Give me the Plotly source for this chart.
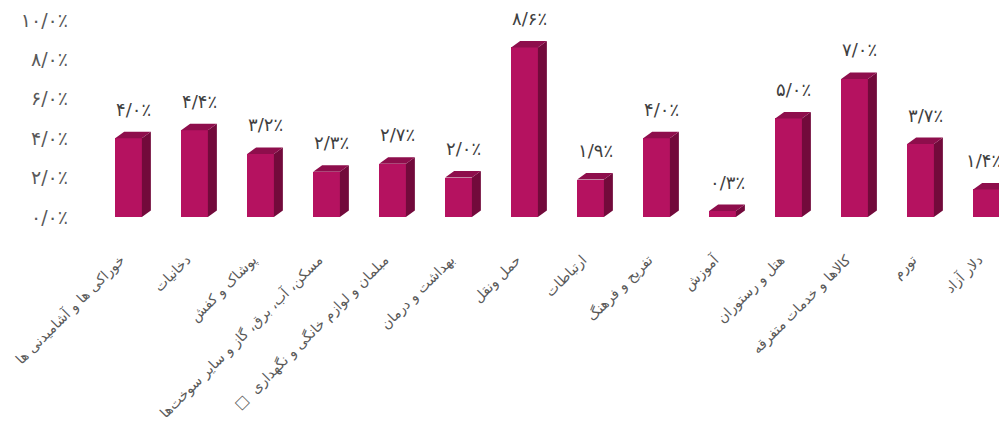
import plotly.graph_objects as go

categories = [
    "خوراکی ها و آشامیدنی ها",
    "دخانیات",
    "پوشاک و کفش",
    "مسکن، آب، برق، گاز و سایر سوخت‌ها",
    "مبلمان و لوازم خانگی و نگهداری  □\u200f",
    "بهداشت و درمان",
    "حمل ونقل",
    "ارتباطات",
    "تفریح و فرهنگ",
    "آموزش",
    "هتل و رستوران",
    "کالاها و خدمات متفرقه",
    "تورم",
    "دلار آزاد",
]
values = [4.0, 4.4, 3.2, 2.3, 2.7, 2.0, 8.6, 1.9, 4.0, 0.3, 5.0, 7.0, 3.7, 1.4]
y_ticks = [0, 2, 4, 6, 8, 10]

FA = str.maketrans("0123456789.", "۰۱۲۳۴۵۶۷۸۹/")


def fa_pct(v):
    return f"{v:.1f}".translate(FA) + "٪"


FRONT = "#B51260"
SIDE = "#720A3B"
TOP = "#8E0E4C"
FONT = "DejaVu Sans"
W = 0.405   # bar width (axis units)
DX = 0.136  # depth x
DY = 0.33   # depth y
LABEL_SHIFT = 0.12  # category label offset (axis units)
XR = [-0.508, 13.31]

xs = list(range(len(values)))

fig = go.Figure()
fig.add_trace(go.Bar(x=xs, y=values, width=W, marker=dict(color=FRONT, line=dict(width=0)),
                     hoverinfo="skip", showlegend=False))

sx, sy, tx, ty = [], [], [], []
for i, v in zip(xs, values):
    r = i + W / 2
    l = i - W / 2
    sx += [r, r + DX, r + DX, r, r, None]
    sy += [0, DY, v + DY, v, 0, None]
    tx += [l, l + DX, r + DX, r, l, None]
    ty += [v, v + DY, v + DY, v, v, None]

fig.add_trace(go.Scatter(x=sx, y=sy, fill="toself", fillcolor=SIDE, mode="lines",
                         line=dict(width=0, color=SIDE), hoverinfo="skip", showlegend=False))
fig.add_trace(go.Scatter(x=tx, y=ty, fill="toself", fillcolor=TOP, mode="lines",
                         line=dict(width=0, color=TOP), hoverinfo="skip", showlegend=False))
# invisible trace to carry the category-label axis
fig.add_trace(go.Scatter(x=[x - LABEL_SHIFT for x in xs], y=[0] * len(xs), xaxis="x2",
                         mode="markers", marker=dict(opacity=0), hoverinfo="skip",
                         showlegend=False))

for i, v in zip(xs, values):
    last = i == xs[-1]
    fig.add_annotation(x=i + DX / 2, y=v + DY, text=fa_pct(v), showarrow=False,
                       yanchor="bottom", yshift=10, xshift=-8 if last else 0,
                       font=dict(family=FONT, size=18, color="#404040"))

fig.update_layout(
    width=1007, height=440,
    margin=dict(l=87, r=8, t=2, b=231, autoexpand=False),
    paper_bgcolor="white", plot_bgcolor="white",
    bargap=0,
    xaxis=dict(range=XR, showticklabels=False, showgrid=False, zeroline=False,
               showline=False, automargin=False, ticks=""),
    xaxis2=dict(range=XR, overlaying="x", side="bottom", anchor="y", tickmode="array",
                tickvals=[x - LABEL_SHIFT for x in xs], ticktext=categories,
                tickangle=-45, showgrid=False, zeroline=False, showline=False,
                automargin=False, ticklabelstandoff=31, ticklabeloverflow="allow",
                tickfont=dict(family=FONT, size=14, color="#595959"), ticks=""),
    yaxis=dict(range=[0, 10.5], tickmode="array", tickvals=y_ticks,
               ticktext=[fa_pct(t) for t in y_ticks], showgrid=False, zeroline=False,
               showline=False, ticklabelstandoff=26, automargin=False,
               tickfont=dict(family=FONT, size=19, color="#595959")),
)

fig.write_html("out.html")
